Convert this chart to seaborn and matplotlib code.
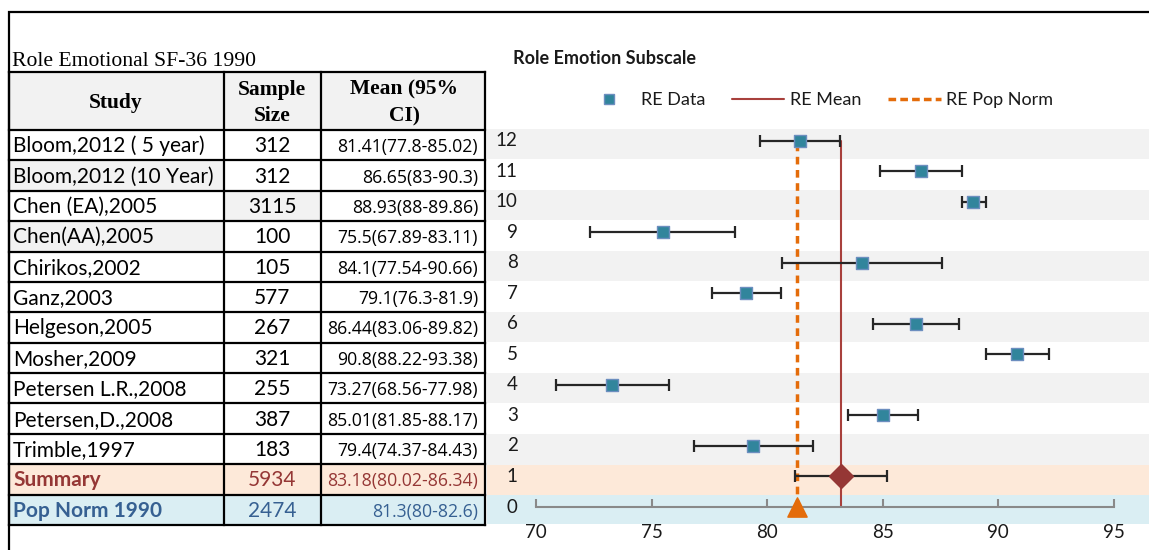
import numpy as np
import pandas as pd
import matplotlib
matplotlib.use("Agg")
import matplotlib.pyplot as plt
import seaborn as sns
from matplotlib.lines import Line2D
from matplotlib.patches import Rectangle

# ---------------- data ----------------
table_title = "Role Emotional SF-36 1990"
chart_title = "Role Emotion Subscale"
header = ["Study", "Sample\nSize", "Mean (95%\nCI)"]
studies = ["Bloom,2012 ( 5 year)", "Bloom,2012 (10 Year)", "Chen (EA),2005",
           "Chen(AA),2005", "Chirikos,2002", "Ganz,2003", "Helgeson,2005",
           "Mosher,2009", "Petersen L.R.,2008", "Petersen,D.,2008",
           "Trimble,1997", "Summary", "Pop Norm 1990"]
sample_sizes = ["312", "312", "3115", "100", "105", "577", "267", "321",
                "255", "387", "183", "5934", "2474"]
ci_labels = ["81.41(77.8-85.02)", "86.65(83-90.3)", "88.93(88-89.86)",
             "75.5(67.89-83.11)", "84.1(77.54-90.66)", "79.1(76.3-81.9)",
             "86.44(83.06-89.82)", "90.8(88.22-93.38)", "73.27(68.56-77.98)",
             "85.01(81.85-88.17)", "79.4(74.37-84.43)", "83.18(80.02-86.34)",
             "81.3(80-82.6)"]
row_pos = [12, 11, 10, 9, 8, 7, 6, 5, 4, 3, 2, 1, 0]
study_means = [81.41, 86.65, 88.93, 75.5, 84.1, 79.1, 86.44, 90.8, 73.27,
               85.01, 79.4]
study_low = [79.67, 84.87, 88.43, 72.35, 80.65, 77.62, 84.60, 89.47, 70.85,
             83.49, 76.84]
study_high = [83.15, 88.43, 89.48, 78.61, 87.58, 80.59, 88.30, 92.18, 75.73,
              86.52, 81.98]
summary_mean = 83.18
summary_low = 81.19
summary_high = 85.20
pop_norm = 81.3
x_ticks = [70, 75, 80, 85, 90, 95]

# ---------------- style ----------------
sns.set_style("white")
plt.rcParams["font.family"] = ["Lato", "DejaVu Sans"]

W, H = 1149, 550
fig = plt.figure(figsize=(W / 100, H / 100), dpi=100)

# ---------------- forest plot ----------------
ax_l, ax_r, ax_top, ax_bot = 487, 1149, 129, 524
ax = fig.add_axes([ax_l / W, (H - ax_bot) / H, (ax_r - ax_l) / W, (ax_bot - ax_top) / H])
ax.set_xlim(67.87, 96.53)
ax.set_ylim(-0.557, 12.39)
ax.set_facecolor("white")

band_colors = {1: "#FDE9D9", 0: "#DAEEF3"}
for k in row_pos:
    c = band_colors.get(k, "#F2F2F2" if k % 2 == 0 else "white")
    ax.axhspan(k - 0.607, k + 0.393, color=c, lw=0, zorder=0)

n = len(study_means)
ys = row_pos[:n]
means = np.array(study_means)
ax.errorbar(means, ys, xerr=[means - np.array(study_low), np.array(study_high) - means],
            fmt="none", ecolor="#262626", elinewidth=1.6, capsize=4.5, capthick=1.6, zorder=3)
ax.errorbar([summary_mean], [1], xerr=[[summary_mean - summary_low], [summary_high - summary_mean]],
            fmt="none", ecolor="#262626", elinewidth=1.6, capsize=4.5, capthick=1.6, zorder=3)

# vertical reference lines
ax.plot([summary_mean, summary_mean], [0, 12], color="#A8403C", lw=1.5, zorder=2)
ax.plot([pop_norm, pop_norm], [0, 12], color="#E46C0A", lw=2.5, ls=(0, (2.2, 1.6)), zorder=2)

df = pd.DataFrame({"mean": study_means, "row": ys})
sns.scatterplot(data=df, x="mean", y="row", marker="s", s=70, color="#31859C",
                edgecolor="#6C8EBF", linewidth=1.0, ax=ax, zorder=5, legend=False)
sns.scatterplot(x=[summary_mean], y=[1], marker="D", s=150, color="#953735",
                edgecolor="#953735", ax=ax, zorder=5, legend=False)
sns.scatterplot(x=[pop_norm], y=[0], marker="^", s=190, color="#E46C0A",
                edgecolor="#E46C0A", ax=ax, zorder=5, legend=False)

for s in ["top", "right", "left"]:
    ax.spines[s].set_visible(False)
ax.spines["bottom"].set_position(("data", 0))
ax.spines["bottom"].set_color("#898989")
ax.spines["bottom"].set_linewidth(1.5)
ax.spines["bottom"].set_bounds(70, 95)
ax.spines["bottom"].set_zorder(2.5)
ax.set_xticks(x_ticks)
ax.set_xticklabels([str(t) for t in x_ticks])
ax.tick_params(axis="x", bottom=True, direction="in", length=6, width=1.5, color="#898989",
               pad=12, labelsize=13.5, labelcolor="#1a1a1a")
ax.set_yticks([])
ax.set_xlabel("")
ax.set_ylabel("")
for k in row_pos:
    ax.text(69.2, k, str(k), ha="right", va="center", fontsize=13.5, color="#1a1a1a", zorder=6)

fig.text(513 / W, 1 - 58 / H, chart_title, fontsize=13, fontweight="bold",
         ha="left", va="center", color="#1a1a1a")

handles = [
    Line2D([], [], marker="s", ls="none", color="#31859C", mec="#6C8EBF", ms=7.5),
    Line2D([], [], color="#A8403C", lw=1.5),
    Line2D([], [], color="#E46C0A", lw=2.5, ls=(0, (2.2, 1.2))),
]
fig.legend(handles, ["RE Data", "RE Mean", "RE Pop Norm"], loc="center",
           bbox_to_anchor=(818 / W, 1 - 100 / H), ncol=3, frameon=False,
           fontsize=13, handlelength=2.9, handletextpad=0.3, columnspacing=1.5,
           labelcolor="#1a1a1a")

# ---------------- table ----------------
tab = fig.add_axes([0, 0, 1, 1], zorder=4)
tab.set_xlim(0, W)
tab.set_ylim(H, 0)
tab.axis("off")
tab.patch.set_alpha(0)

# outer frame
tab.plot([9, 9, W + 5], [H + 5, 12, 12], color="black", lw=1.6, solid_joinstyle="miter")

tab.text(12, 62, table_title, family="Liberation Serif", fontsize=15.6,
         ha="left", va="center", color="black")

col_x = [9, 224, 321, 485]
head_top, head_bot = 72, 130
row_h = (525 - 130) / 13

tab.add_patch(Rectangle((9, head_top), 485 - 9, head_bot - head_top,
                        facecolor="#F2F2F2", edgecolor="none", zorder=0))
head_cx = [116, 272, 404]
for cx, txt in zip(head_cx, header):
    tab.text(cx, (head_top + head_bot) / 2 + 2, txt, family="Liberation Serif",
             fontweight="bold", fontsize=15.5, ha="center", va="center",
             linespacing=1.45, color="black")

cell_gray = {(1, 0), (2, 1), (3, 0)}
for i, (st, ss, ci) in enumerate(zip(studies, sample_sizes, ci_labels)):
    top = head_bot + row_h * i
    cy = top + row_h / 2 + 1
    if st == "Summary":
        bg, fc, bold = "#FDE9D9", "#953735", True
    elif st.startswith("Pop Norm"):
        bg, fc, bold = "#DAEEF3", "#366092", True
    else:
        bg, fc, bold = None, "black", False
    for j in range(3):
        cbg = bg if bg else ("#F2F2F2" if (i, j) in cell_gray else None)
        if cbg:
            tab.add_patch(Rectangle((col_x[j], top), col_x[j + 1] - col_x[j], row_h,
                                    facecolor=cbg, edgecolor="none", zorder=0))
    tab.text(13, cy, st, fontsize=15, ha="left", va="center", color=fc,
             fontweight="bold" if bold else "normal")
    tab.text(272, cy, ss, fontsize=15, ha="center", va="center", color=fc)
    tab.text(478, cy + 1, ci, family=["Open Sans", "DejaVu Sans"], fontsize=12.7,
             ha="right", va="center", color=fc)

# grid lines
for y in [head_top] + [head_bot + row_h * i for i in range(14)]:
    tab.plot([9, 485], [y, y], color="black", lw=1.6, solid_capstyle="projecting")
for x in col_x:
    tab.plot([x, x], [head_top, 525], color="black", lw=1.6, solid_capstyle="projecting")

fig.savefig("out.png", dpi=100)
